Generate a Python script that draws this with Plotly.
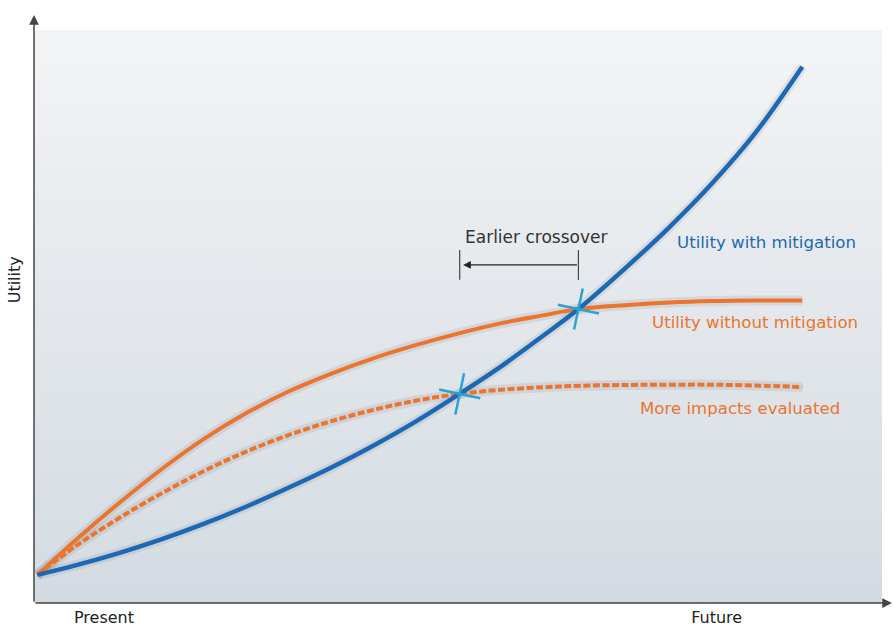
import plotly.graph_objects as go

# ---- data (time in % of horizon, utility in % of axis) ----
time = [0.4, 5, 10, 15, 20, 25, 30, 35, 40, 45, 50.2, 55, 60, 64.2, 70, 75, 80, 85, 90.6]
with_mitigation = [4.9, 6.6, 8.7, 11.1, 13.8, 16.8, 20.1, 23.6, 27.45, 31.65, 36.5, 41.2, 46.6, 51.3, 58.8, 65.7, 73.3, 81.9, 93.6]
without_mitigation = [4.9, 11.1, 17.4, 23.3, 28.6, 33.1, 36.9, 40.0, 42.7, 45.0, 47.1, 48.8, 50.2, 51.3, 52.0, 52.45, 52.7, 52.8, 52.8]
more_impacts = [4.9, 10.0, 14.8, 19.1, 23.0, 26.4, 29.3, 31.7, 33.7, 35.3, 36.5, 37.2, 37.65, 37.9, 38.05, 38.1, 38.1, 37.95, 37.7]
crossover_x = [50.2, 64.2]
crossover_y = [36.5, 51.3]
tick_positions = [8.25, 80.5]
tick_labels = ["Present", "Future"]
series_labels = ["Utility with mitigation", "Utility without mitigation", "More impacts evaluated"]
label_x = [75.6, 72.6, 71.2]
label_y = [63.0, 49.0, 34.0]
note_text = "Earlier crossover"
note_x = 59.2
note_y = 63.9
arrow_y = 59.0
bar_y = [56.4, 61.6]

BLUE = "#1c68b4"
ORANGE = "#ec742c"
CYAN = "#29a3d6"
SHADOW = "rgba(70,80,90,0.10)"
FONT = "DejaVu Sans"

fig = go.Figure()

# gradient background panel
fig.add_trace(go.Scatter(
    x=[0, 100, 100, 0, 0], y=[0, 0, 100, 100, 0], mode="lines",
    fill="toself", line=dict(width=0, color="rgba(0,0,0,0)"),
    fillgradient=dict(type="vertical", start=0, stop=100,
                      colorscale=[[0, "#d3dbe2"], [0.5, "#e3e7eb"], [1, "#f3f4f6"]]),
    hoverinfo="skip", showlegend=False))

# soft halo under each curve (imitates the drop shadow)
for ys in (more_impacts, without_mitigation, with_mitigation):
    fig.add_trace(go.Scatter(x=time, y=ys, mode="lines",
                             line=dict(color=SHADOW, width=10, shape="spline", smoothing=1),
                             hoverinfo="skip", showlegend=False))

fig.add_trace(go.Scatter(x=time, y=more_impacts, mode="lines",
                         line=dict(color=ORANGE, width=4, dash="7px,2.5px", shape="spline", smoothing=1),
                         hoverinfo="skip", showlegend=False))
fig.add_trace(go.Scatter(x=time, y=without_mitigation, mode="lines",
                         line=dict(color=ORANGE, width=4, shape="spline", smoothing=1),
                         hoverinfo="skip", showlegend=False))
fig.add_trace(go.Scatter(x=time, y=with_mitigation, mode="lines",
                         line=dict(color=BLUE, width=4.5, shape="spline", smoothing=1),
                         hoverinfo="skip", showlegend=False))
fig.add_trace(go.Scatter(x=crossover_x, y=crossover_y, mode="markers",
                         marker=dict(symbol="cross-thin", size=30, angle=12, color=CYAN,
                                     line=dict(color=CYAN, width=2.5)),
                         hoverinfo="skip", showlegend=False))

# tick bars for crossover shift
for cx in crossover_x:
    fig.add_shape(type="line", x0=cx, x1=cx, y0=bar_y[0], y1=bar_y[1],
                  line=dict(color="#444444", width=1.2))

annotations = [
    dict(x=crossover_x[0] + 0.4, y=arrow_y, ax=crossover_x[1], ay=arrow_y, xref="x", yref="y",
         axref="x", ayref="y", text="", showarrow=True, arrowhead=2, arrowsize=1.3,
         arrowwidth=1.2, arrowcolor="#222222"),
    dict(x=note_x, y=note_y, xref="x", yref="y", text=note_text,
         showarrow=False, font=dict(family=FONT, size=17, color="#333333"), xanchor="center", yanchor="middle"),
    # axis arrows
    dict(x=0, y=1.0262, xref="paper", yref="paper", ax=0, ay=588, axref="pixel", ayref="pixel",
         text="", showarrow=True, arrowhead=2, arrowsize=1.3, arrowwidth=1.5, arrowcolor="#444444"),
    dict(x=1.0118, y=0, xref="paper", yref="paper", ax=-858, ay=0, axref="pixel", ayref="pixel",
         text="", showarrow=True, arrowhead=2, arrowsize=1.3, arrowwidth=1.5, arrowcolor="#444444"),
    dict(x=0, y=0.564, xref="paper", yref="paper", text="Utility", textangle=-90, showarrow=False,
         xanchor="right", yanchor="middle", xshift=-8, font=dict(family=FONT, size=16, color="#222222")),
]
label_colors = [BLUE, ORANGE, ORANGE]
for t, lx, ly, c in zip(series_labels, label_x, label_y, label_colors):
    annotations.append(dict(x=lx, y=ly, xref="x", yref="y", text=t, showarrow=False,
                            xanchor="left", yanchor="middle", font=dict(family=FONT, size=16.6, color=c)))

fig.update_layout(
    width=894, height=628,
    margin=dict(l=34, r=12, t=30, b=25),
    paper_bgcolor="white", plot_bgcolor="white",
    annotations=annotations,
    xaxis=dict(range=[0, 100], showgrid=False, zeroline=False, showline=False, automargin=False,
               tickvals=tick_positions, ticktext=tick_labels, ticks="", ticklabelstandoff=3,
               tickfont=dict(family=FONT, size=16, color="#222222"), fixedrange=True),
    yaxis=dict(range=[0, 100], showgrid=False, zeroline=False, showline=False, automargin=False,
               showticklabels=False, ticks="", fixedrange=True),
    showlegend=False,
)

fig.write_html("out.html", config={"displayModeBar": False},
               post_script="document.body.style.margin='0';")
